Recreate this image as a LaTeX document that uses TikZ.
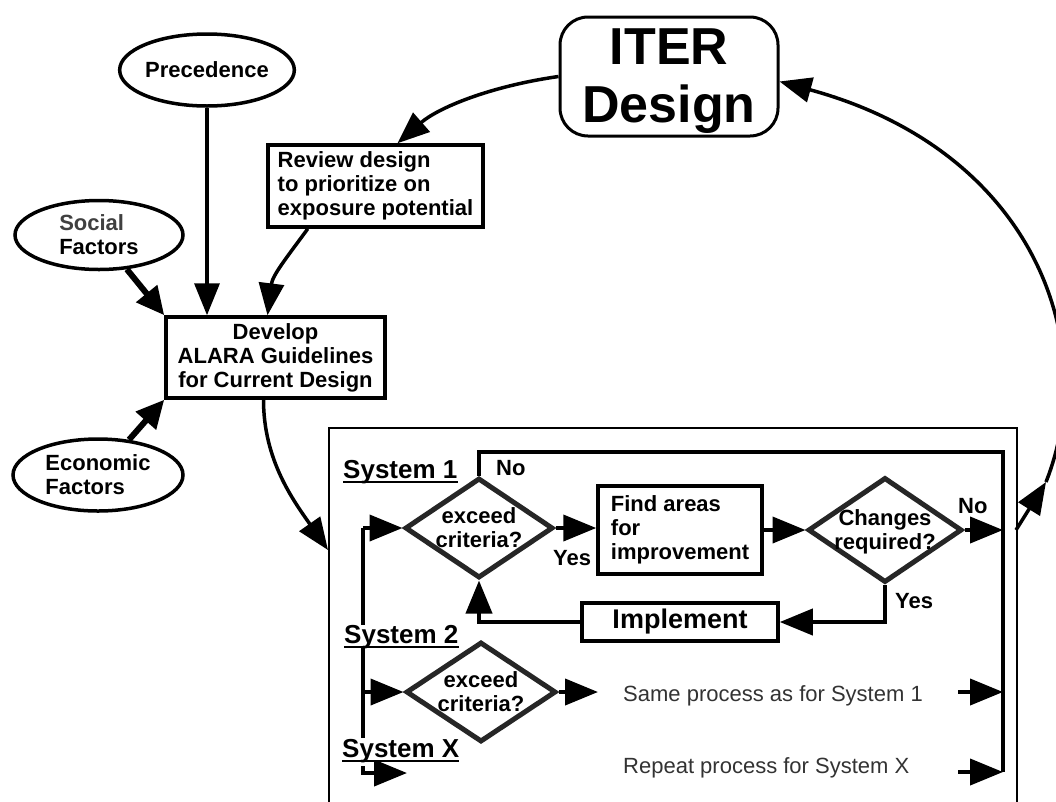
\documentclass[tikz,border=0pt]{standalone}
\usepackage{fontspec}
\setmainfont{Liberation Sans}
\usetikzlibrary{arrows.meta,shapes.geometric,calc}
\begin{document}
\begin{tikzpicture}[x=1pt,y=-1pt,
  every node/.style={font=\fontsize{22}{24}\selectfont\bfseries},
  box/.style={draw, line width=3.5pt, inner sep=0pt},
  oval/.style={draw, ellipse, line width=3.5pt, inner sep=0pt, minimum width=168pt, minimum height=72pt, align=left},
  dia/.style={draw=black!85, diamond, line width=5pt, inner sep=0pt},
  conn/.style={line width=3.5pt, -{Triangle[length=32pt,width=25pt]}},
  fat/.style={line width=6pt, -{Triangle[length=28pt,width=26pt]}},
  flow/.style={line width=4pt},
  farr/.style={flow, -{Triangle[length=33pt,width=26pt]}},
  lbl/.style={inner sep=0pt, anchor=base west},
  sys/.style={lbl, font=\fontsize{26}{28}\selectfont\bfseries, fill=white},
  plain/.style={lbl, font=\fontsize{22}{24}\selectfont, text=black!80},
  uline/.style={line width=2pt},
]
\useasboundingbox (0,0) rectangle (1056,801);
\fill[white] (0,0) rectangle (1056,801);
\clip (0,0) rectangle (1056,801);

% outer nodes
\node[oval, minimum width=168pt, minimum height=72pt] (prec) at (207,70) {Precedence};
\node[oval, minimum height=69pt] (soc) at (99,235) {{\color{black!75}Social}\\Factors};
\node[oval, minimum width=170pt, minimum height=72pt] (eco) at (98,475) {Economic\\Factors};
\node[box, minimum width=215pt, minimum height=82pt, align=left] (rev) at (375.5,186) {Review design\\to prioritize on\\exposure potential};
\node[box, minimum width=219pt, minimum height=81pt, align=center] (dev) at (275.5,357.5) {Develop\\ALARA Guidelines\\for Current Design};
\node[box, line width=3pt, rounded corners=28pt, minimum width=218pt, minimum height=119pt] (iter) at (669,76.5) {};
\node[inner sep=0pt, align=center, font=\fontsize{52}{58}\selectfont\bfseries] (itert) at (669,81) {ITER\\Design};

% container
\node[draw, line width=2pt, minimum width=688pt, minimum height=420pt, inner sep=0pt, anchor=north west] (cont) at (328,427) {};
\coordinate (cin) at (328,550);
\coordinate (cout) at (1016,530);
\coordinate (mid) at (1046,482);

% outer connectors
\draw[conn] (prec.south) -- (prec.south |- dev.north);
\draw[fat] (soc) -- (dev.north west);
\draw[fat] (eco) -- (dev.south west);
\draw[conn] ($(rev.south west)!0.19!(rev.south east)$) .. controls +(-22,30) and +(5,-40) .. ([xshift=-8pt]dev.north);
\draw[conn] (iter.west) .. controls +(-70,10) and +(40,-35) .. ([xshift=22pt]rev.north);
\draw[conn] ([xshift=-12pt]dev.south) .. controls +(0,60) and +(-35,-50) .. (cin);
\draw[conn] (cout) -- (mid);
\draw[conn] (mid) .. controls (1102,340) and (1032,150) .. ([yshift=-5pt]iter.east);

% inner flow
\coordinate (tr) at (1003,452);
\coordinate (br) at (1003,772);
\coordinate (lt) at (363,528);
\coordinate (lb) at (363,738);
\coordinate (xs) at (363,766);
\coordinate (xe) at (407,773);
\coordinate (se) at (598,692);
\coordinate (s2a) at (958,692);
\coordinate (rpa) at (958,772);

\node[dia, minimum width=148pt, minimum height=100pt] (d1) at (479,528) {};
\node[inner sep=0pt, align=center] (t1) at (d1) {exceed\\criteria?};
\node[box, minimum width=164pt, minimum height=88pt, align=left] (find) at (680,530) {Find areas\\for\\improvement};
\node[dia, minimum width=154pt, minimum height=105pt] (chg) at (885,530) {};
\node[inner sep=0pt, align=center] (t2) at ([yshift=-2pt]chg) {Changes\\required?};
\node[box, minimum width=196pt, minimum height=38pt, font=\fontsize{27}{30}\selectfont\bfseries] (impl) at (680,622) {Implement};
\node[dia, minimum width=150pt, minimum height=100pt] (d3) at (481,692) {};
\node[inner sep=0pt, align=center] (t3) at (d3) {exceed\\criteria?};

\draw[farr] (d1.east) -- (d1.east -| find.west);
\draw[farr] (find.east) -- (chg.west);
\draw[farr] (chg.east) -- (chg.east -| tr);
\draw[farr] (chg.south) |- (impl.east);
\draw[farr] (impl.west) -| (d1.south);
\draw[flow] (d1.north) |- (tr) -- (br);
\draw[flow] (lt) -- (lb);
\draw[farr] (lt) -- (d1.west);
\draw[farr] (lt |- d3.west) -- (d3.west);
\draw[farr] (xs) |- (xe);
\draw[farr] (d3.east) -- (se);
\draw[farr] (s2a) -- (tr |- s2a);
\draw[farr] (rpa) -- (br);

% labels
\node[sys] (s1) at (343,478) {System 1};
\node[sys] (s2) at (344,643) {System 2};
\node[sys] (sx) at (342,757) {System X};
\draw[uline] ([yshift=-4pt]s1.base west) -- ([yshift=-4pt]s1.base east);
\draw[uline] ([yshift=-4pt]s2.base west) -- ([yshift=-4pt]s2.base east);
\draw[uline] ([yshift=-4pt]sx.base west) -- ([yshift=-4pt]sx.base east);
\node[lbl] (no1) at (496,475) {No};
\node[lbl] (yes1) at (553,565) {Yes};
\node[lbl] (no2) at (958,513) {No};
\node[lbl] (yes2) at (895,608) {Yes};
\node[plain] (same) at (623,701) {Same process as for System 1};
\node[plain] (rep) at (623,773) {Repeat process for System X};
\end{tikzpicture}
\end{document}
